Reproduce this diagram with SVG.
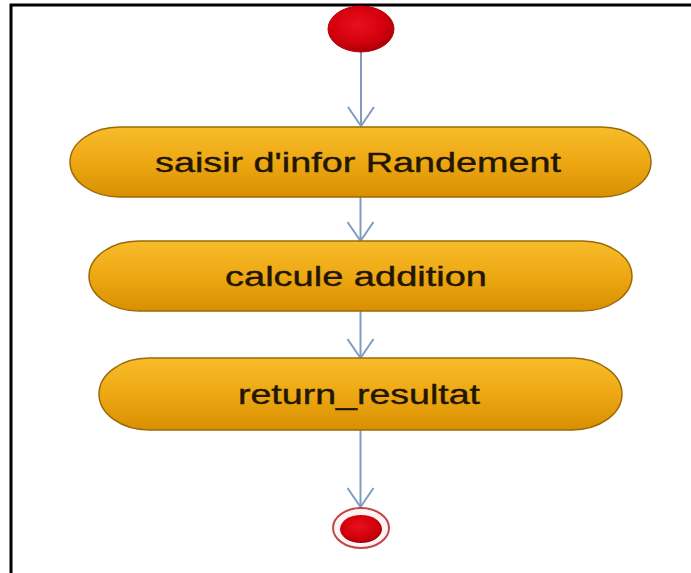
<svg xmlns="http://www.w3.org/2000/svg" width="691" height="573" viewBox="0 0 691 573">
  <defs>
    <linearGradient id="nodeFill" x1="0" y1="0" x2="0" y2="1">
      <stop offset="0" stop-color="#f8bc2a"/>
      <stop offset="0.5" stop-color="#eda813"/>
      <stop offset="1" stop-color="#d98f00"/>
    </linearGradient>
    <radialGradient id="redFill" cx="0.45" cy="0.4" r="0.6">
      <stop offset="0" stop-color="#e8101c"/>
      <stop offset="0.7" stop-color="#d2000c"/>
      <stop offset="1" stop-color="#a80008"/>
    </radialGradient>
    <marker id="arrow" markerUnits="userSpaceOnUse" markerWidth="30" markerHeight="24" refX="14" refY="20" orient="0" viewBox="0 0 30 24">
      <path d="M1,1 L14,20 L27,1" fill="none" stroke="#7f9cc0" stroke-width="2"/>
    </marker>
  </defs>
  <style>
    .node rect { fill: url(#nodeFill); stroke: #9a6a08; stroke-width: 1.5; }
    .node text { font-family: "Liberation Sans", Arial, sans-serif; font-size: 28px; fill: #221600; stroke: #221600; stroke-width: 0.4; text-anchor: middle; }
    .edge { stroke: #7f9cc0; stroke-width: 2; fill: none; marker-end: url(#arrow); }
  </style>
  <rect x="0" y="0" width="691" height="573" fill="#ffffff"/>
  <path d="M11,573 V5 H691" fill="none" stroke="#000000" stroke-width="3"/>

  <g id="connectors">
    <line class="edge" x1="361" y1="50" x2="361" y2="126"/>
    <line class="edge" x1="360.5" y1="197" x2="360.5" y2="241"/>
    <line class="edge" x1="360.5" y1="311" x2="360.5" y2="358"/>
    <line class="edge" x1="360.5" y1="430" x2="360.5" y2="507"/>
  </g>

  <g id="start">
    <ellipse cx="361" cy="29" rx="33" ry="23" fill="url(#redFill)" stroke="#b8000a" stroke-width="1"/>
  </g>

  <g id="node1" class="node">
    <rect x="70" y="127" width="581" height="70" rx="50" ry="35"/>
    <text x="358" y="172" textLength="406" lengthAdjust="spacingAndGlyphs">saisir d'infor Randement</text>
  </g>

  <g id="node2" class="node">
    <rect x="89" y="241" width="543" height="70" rx="50" ry="35"/>
    <text x="356" y="286" textLength="262" lengthAdjust="spacingAndGlyphs">calcule addition</text>
  </g>

  <g id="node3" class="node">
    <rect x="99" y="358" width="523" height="72" rx="50" ry="36"/>
    <text x="359" y="404" textLength="242" lengthAdjust="spacingAndGlyphs">return_resultat</text>
  </g>

  <g id="end">
    <ellipse cx="361" cy="528" rx="28" ry="20" fill="#fff4f4" stroke="#c24848" stroke-width="2"/>
    <ellipse cx="361" cy="529" rx="21" ry="14" fill="url(#redFill)"/>
  </g>
</svg>
